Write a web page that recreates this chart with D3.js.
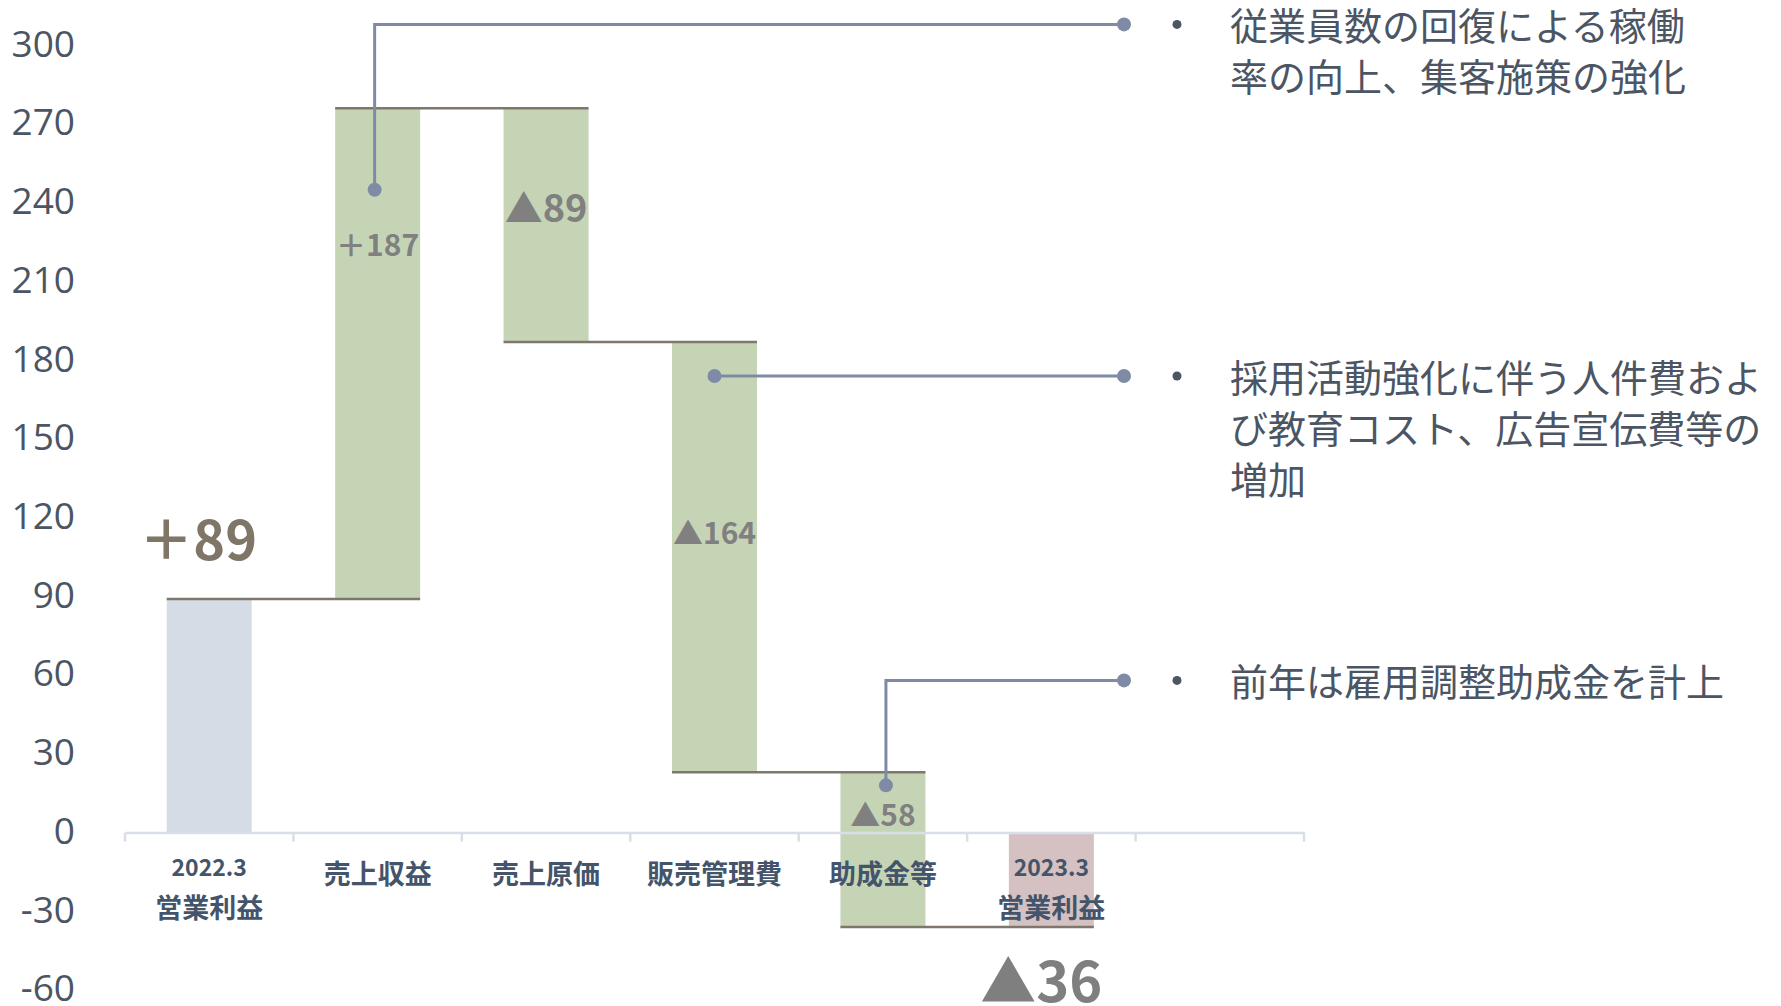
<!DOCTYPE html>
<html><head><meta charset="utf-8">
<script src="https://cdn.jsdelivr.net/npm/d3@7"></script>
<style>
html,body{margin:0;padding:0;background:#fff;}
svg{display:block;}
</style></head>
<body>
<svg id="chart" width="1781" height="1006"></svg>
<script>
// ---- data ----
const categories = ["2022.3\n営業利益", "売上収益", "売上原価", "販売管理費", "助成金等", "2023.3\n営業利益", ""];
const barStart = [0, 89, 276, 187, 23, 0];
const barEnd   = [89, 276, 187, 23, -36, -36];
const barKind  = ["base", "delta", "delta", "delta", "delta", "total"];
const valueLabels = ["＋89", "＋187", "▲89", "▲164", "▲58", "▲36"];
const yTicks = [-60, -30, 0, 30, 60, 90, 120, 150, 180, 210, 240, 270, 300];
const notes = [
  ["従業員数の回復による稼働", "率の向上、集客施策の強化"],
  ["採用活動強化に伴う人件費およ", "び教育コスト、広告宣伝費等の", "増加"],
  ["前年は雇用調整助成金を計上"]
];
const noteBar   = [1, 3, 4];        // bar the callout points at
const noteFrom  = [245, 174, 18];   // value of the dot inside the bar
const noteLevel = [308, 174, 58];   // value of the horizontal leader

// ---- layout ----
const svg = d3.select("#chart");
const x = d3.scaleBand().domain(d3.range(categories.length)).range([125, 1304]).paddingInner(0).paddingOuter(0);
const y = d3.scaleLinear().domain([-60, 300]).range([990, 45.4]);
const barW = 85;
const cx = i => x(i) + x.bandwidth() / 2;

const colors = {base: "#d6dce5", delta: "#c6d4b6", total: "#d5c1c1"};
const JP = "'Noto Sans CJK JP','Noto Sans',sans-serif";

// y axis labels
const yAxis = d3.axisLeft(y).tickValues(yTicks).tickSize(0).tickPadding(0).tickFormat(d => String(d));
const gy = svg.append("g").attr("transform", "translate(75,-1)").call(yAxis);
gy.select(".domain").remove();
gy.selectAll("text").attr("font-family", "'Open Sans','Noto Sans',sans-serif")
  .attr("font-size", 37).attr("fill", "#4b5563");

// bars
svg.append("g").selectAll("rect").data(barStart).join("rect")
  .attr("x", (d, i) => cx(i) - barW / 2)
  .attr("width", barW)
  .attr("y", (d, i) => y(Math.max(d, barEnd[i])))
  .attr("height", (d, i) => Math.abs(y(d) - y(barEnd[i])))
  .attr("fill", (d, i) => colors[barKind[i]]);

// x axis line and ticks
const xAxis = d3.axisBottom(x).tickSize(0).tickFormat("");
const gx = svg.append("g").attr("transform", `translate(0,${y(0)})`).call(xAxis);
gx.select(".domain").attr("stroke", "#d9dfe9").attr("stroke-width", 2.5);
gx.selectAll(".tick").remove();
const tickPos = d3.range(categories.length + 1).map(i => i < categories.length ? x(i) : x(categories.length - 1) + x.bandwidth());
svg.append("g").selectAll("line").data(tickPos).join("line")
  .attr("x1", d => d).attr("x2", d => d)
  .attr("y1", y(0)).attr("y2", y(0) + 9)
  .attr("stroke", "#d9dfe9").attr("stroke-width", 2.5);

// category labels
const catG = svg.append("g");
categories.forEach((c, i) => {
  const lines = c.split("\n");
  lines.forEach((ln, j) => {
    const yy = lines.length === 1 ? y(0) + 39.5 : y(0) + 33.5 + j * 40;
    catG.append("text").attr("x", cx(i)).attr("y", yy)
      .attr("text-anchor", "middle").attr("dominant-baseline", "central")
      .attr("font-family", JP).attr("font-weight", 700)
      .attr("font-size", j === 0 && lines.length > 1 ? 23 : 27)
      .attr("fill", "#44546a").text(ln);
  });
});

// connectors
svg.append("g").selectAll("line").data(barEnd.slice(0, 5)).join("line")
  .attr("x1", (d, i) => cx(i) - barW / 2)
  .attr("x2", (d, i) => cx(i + 1) + barW / 2)
  .attr("y1", d => y(d)).attr("y2", d => y(d))
  .attr("stroke", "#7f776b").attr("stroke-width", 2.5);

// value labels
const labelCfg = [
  {dx: -11, dy: -39, size: 54, fill: "#7f7667", base: "alphabetic"},
  {dx: 0, dy: 135, size: 30, fill: "#808080", base: "central"},
  {dx: 0, dy: 97,  size: 38, fill: "#808080", base: "central"},
  {dx: 0, dy: 189, size: 30, fill: "#808080", base: "central"},
  {dx: 0, dy: 41,  size: 30, fill: "#808080", base: "central"},
  {dx: -10, dy: 75, size: 56, fill: "#7f7f7f", base: "alphabetic"}
];
svg.append("g").selectAll("text").data(valueLabels).join("text")
  .attr("x", (d, i) => cx(i) + labelCfg[i].dx)
  .attr("y", (d, i) => (labelCfg[i].dy < 0 ? y(Math.max(barStart[i], barEnd[i])) : (i === 5 ? y(barEnd[i]) : y(Math.max(barStart[i], barEnd[i])))) + labelCfg[i].dy)
  .attr("text-anchor", "middle").attr("dominant-baseline", (d, i) => labelCfg[i].base)
  .attr("font-family", JP).attr("font-weight", 700)
  .attr("font-size", (d, i) => labelCfg[i].size)
  .attr("fill", (d, i) => labelCfg[i].fill)
  .text(d => d);

// callouts
const endX = 1124;
const noteDx = [-3, 0, 3];
const calloutColor = "#7f8ba6";
const cg = svg.append("g");
notes.forEach((lines, k) => {
  const px = cx(noteBar[k]) + noteDx[k];
  const py = y(noteFrom[k]);
  const ly = y(noteLevel[k]);
  cg.append("path")
    .attr("d", `M${px},${py}V${ly}H${endX}`)
    .attr("fill", "none").attr("stroke", calloutColor).attr("stroke-width", 3);
  cg.append("circle").attr("cx", px).attr("cy", py).attr("r", 7).attr("fill", calloutColor);
  cg.append("circle").attr("cx", endX).attr("cy", ly).attr("r", 7).attr("fill", calloutColor);
  cg.append("circle").attr("cx", 1177).attr("cy", ly).attr("r", 4.5).attr("fill", "#4b5563");
  lines.forEach((ln, j) => {
    cg.append("text").attr("x", 1230).attr("y", ly - 1 + j * 51)
      .attr("dominant-baseline", "central")
      .attr("font-family", JP).attr("font-weight", 400)
      .attr("font-size", 38).attr("fill", "#4b5563").text(ln);
  });
});
</script>
</body></html>
